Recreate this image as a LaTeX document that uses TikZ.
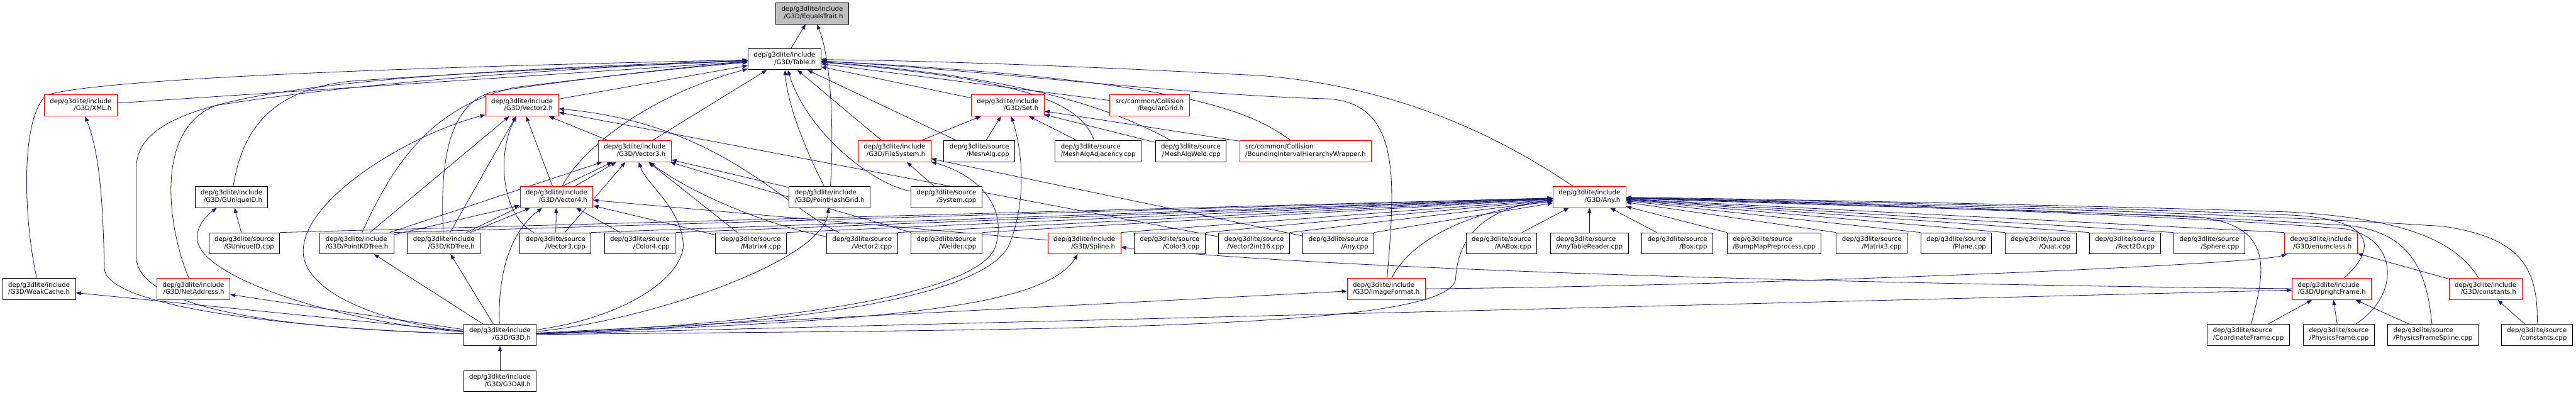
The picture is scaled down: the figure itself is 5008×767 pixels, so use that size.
\documentclass[tikz,border=0pt]{standalone}
\usepackage{fontspec}
\setmainfont{DejaVu Sans}
\usetikzlibrary{arrows.meta,backgrounds}
\definecolor{edgeblue}{RGB}{25,25,112}
\newcommand\flab[2]{\begin{tabular}{@{}l@{}}#1\\\hfill#2\hfill\end{tabular}}
\newcommand\ghdr[1]{\flab{dep/g3dlite/include}{/G3D/#1}}
\newcommand\gsrc[1]{\flab{dep/g3dlite/source}{/#1}}
\newcommand\collh[1]{\flab{src/common/Collision}{/#1}}

\begin{document}
\begin{tikzpicture}[x=1pt, y=-1pt,
    filebox/.style={draw=black, fill=white, line width=1.2pt, inner xsep=11pt,
      inner ysep=0pt, minimum height=41pt, font=\fontsize{12.4}{14.5}\selectfont},
    redbox/.style={filebox, draw=red},
    rootbox/.style={filebox, fill=gray!50},
    includes/.style={draw=edgeblue, line width=1pt, -{Triangle[length=10pt,width=7.5pt]}}
  ]
  \useasboundingbox (0,0) rectangle (5008,767);

  \node[rootbox] (eqtrait) at (1579,26) {\ghdr{EqualsTrait.h}};
  \node[filebox] (tableh) at (1525,115) {\ghdr{Table.h}};

  \node[redbox] (xmlh) at (157,205) {\ghdr{XML.h}};
  \node[redbox] (vec2h) at (1015,205) {\ghdr{Vector2.h}};
  \node[redbox] (seth) at (1959,205) {\ghdr{Set.h}};
  \node[redbox] (reggrid) at (2235,205) {\collh{RegularGrid.h}};

  \node[redbox] (vec3h) at (1234,294) {\ghdr{Vector3.h}};
  \node[redbox] (filesys) at (1739,294) {\ghdr{FileSystem.h}};
  \node[filebox] (meshalg) at (1904,294) {\gsrc{MeshAlg.cpp}};
  \node[filebox] (meshadj) at (2135,294) {\gsrc{MeshAlgAdjacency.cpp}};
  \node[filebox] (meshweld) at (2315,294) {\gsrc{MeshAlgWeld.cpp}};
  \node[redbox] (bihwrap) at (2538,294) {\collh{BoundingIntervalHierarchyWrapper.h}};

  \node[filebox] (guniqueh) at (450,383) {\ghdr{GUniqueID.h}};
  \node[redbox] (vec4h) at (1082,383) {\ghdr{Vector4.h}};
  \node[filebox] (pointhash) at (1613,383) {\ghdr{PointHashGrid.h}};
  \node[filebox] (systemcpp) at (1840,383) {\gsrc{System.cpp}};
  \node[redbox] (anyh) at (3090,383) {\ghdr{Any.h}};

  \node[filebox] (guniquecpp) at (475,473) {\gsrc{GUniqueID.cpp}};
  \node[filebox] (pointkd) at (694,473) {\ghdr{PointKDTree.h}};
  \node[filebox] (kdtree) at (863,473) {\ghdr{KDTree.h}};
  \node[filebox] (vec3cpp) at (1080,473) {\gsrc{Vector3.cpp}};
  \node[filebox] (color4cpp) at (1244,473) {\gsrc{Color4.cpp}};
  \node[filebox] (matrix4cpp) at (1460,473) {\gsrc{Matrix4.cpp}};
  \node[filebox] (vec2cpp) at (1676,473) {\gsrc{Vector2.cpp}};
  \node[filebox] (weldercpp) at (1840,473) {\gsrc{Welder.cpp}};
  \node[redbox] (splineh) at (2108,473) {\ghdr{Spline.h}};
  \node[filebox] (color3cpp) at (2274,473) {\gsrc{Color3.cpp}};
  \node[filebox] (vec2i16cpp) at (2438,473) {\gsrc{Vector2int16.cpp}};
  \node[filebox] (anycpp) at (2602,473) {\gsrc{Any.cpp}};
  \node[filebox] (aaboxcpp) at (2919,473) {\gsrc{AABox.cpp}};
  \node[filebox] (anytabcpp) at (3090,473) {\gsrc{AnyTableReader.cpp}};
  \node[filebox] (boxcpp) at (3261,473) {\gsrc{Box.cpp}};
  \node[filebox] (bumpcpp) at (3449,473) {\gsrc{BumpMapPreprocess.cpp}};
  \node[filebox] (matrix3cpp) at (3639,473) {\gsrc{Matrix3.cpp}};
  \node[filebox] (planecpp) at (3803,473) {\gsrc{Plane.cpp}};
  \node[filebox] (quatcpp) at (3967,473) {\gsrc{Quat.cpp}};
  \node[filebox] (rect2dcpp) at (4131,473) {\gsrc{Rect2D.cpp}};
  \node[filebox] (spherecpp) at (4295,473) {\gsrc{Sphere.cpp}};
  \node[redbox] (enumh) at (4512,473) {\ghdr{enumclass.h}};

  \node[filebox] (weakcache) at (76,562) {\ghdr{WeakCache.h}};
  \node[redbox] (netaddr) at (376,562) {\ghdr{NetAddress.h}};
  \node[redbox] (imagefmt) at (2695,562) {\ghdr{ImageFormat.h}};
  \node[redbox] (uprighth) at (4533,562) {\ghdr{UprightFrame.h}};
  \node[redbox] (consth) at (4832,562) {\ghdr{constants.h}};

  \node[filebox] (g3dh) at (972,651) {\ghdr{G3D.h}};
  \node[filebox] (coordcpp) at (4371,651) {\gsrc{CoordinateFrame.cpp}};
  \node[filebox] (physcpp) at (4547,651) {\gsrc{PhysicsFrame.cpp}};
  \node[filebox] (physsplcpp) at (4730,651) {\gsrc{PhysicsFrameSpline.cpp}};
  \node[filebox] (constcpp) at (4932,651) {\gsrc{constants.cpp}};

  \node[filebox] (g3dall) at (972,741) {\ghdr{G3DAll.h}};

  \begin{scope}[on background layer]
    \draw[includes] (tableh) -- (eqtrait);
    \draw[includes] (pointhash) .. controls (1622,250) and (1615,110) .. (eqtrait);

    \foreach \src in {xmlh, vec2h, vec3h, filesys, meshalg, seth, reggrid}
      \draw[includes] (\src) -- (tableh);
    \draw[includes] (weakcache) .. controls (45,420) and (40,230) .. (90,185)
      .. controls (200,150) and (900,128) .. (tableh);
    \draw[includes] (g3dh) .. controls (600,640) and (268,610) .. (265,500) -- (265,330)
      .. controls (262,200) and (500,150) .. (tableh);
    \draw[includes] (netaddr) .. controls (325,440) and (300,250) .. (420,205)
      .. controls (700,160) and (1100,132) .. (tableh);
    \draw[includes] (guniqueh) .. controls (470,260) and (520,175) .. (680,158)
      .. controls (1000,135) and (1300,125) .. (tableh);
    \draw[includes] (pointkd) .. controls (760,330) and (830,210) .. (1000,170)
      .. controls (1200,145) and (1350,130) .. (tableh);
    \draw[includes] (kdtree) .. controls (855,320) and (870,200) .. (960,178)
      .. controls (1150,150) and (1350,128) .. (tableh);
    \draw[includes] (vec4h) .. controls (1130,290) and (1260,185) .. (tableh);
    \draw[includes] (pointhash) .. controls (1565,290) and (1530,200) .. (tableh);
    \draw[includes] (systemcpp) .. controls (1700,360) and (1570,260) .. (tableh);
    \draw[includes] (meshadj) .. controls (2100,200) and (2000,155) .. (tableh);
    \draw[includes] (meshweld) .. controls (2170,215) and (2000,150) .. (tableh);
    \draw[includes] (bihwrap) .. controls (2430,215) and (2300,155) .. (tableh);
    \draw[includes] (imagefmt) .. controls (2712,350) and (2725,200) .. (2580,192)
      .. controls (2300,185) and (1900,135) .. (tableh);
    \draw[includes] (anyh) .. controls (2950,290) and (2750,170) .. (2450,147)
      .. controls (2100,128) and (1800,118) .. (tableh);

    \foreach \src in {pointkd, kdtree, vec4h, vec3h, vec2i16cpp}
      \draw[includes] (\src) -- (vec2h);
    \draw[includes] (g3dh) .. controls (720,625) and (580,560) .. (590,480)
      .. controls (600,380) and (800,260) .. (vec2h);
    \draw[includes] (vec3cpp) .. controls (975,420) and (965,300) .. (vec2h);
    \draw[includes] (vec2cpp) .. controls (1520,400) and (1400,240) .. (vec2h);

    \foreach \src in {pointkd, kdtree, vec4h, vec3cpp, matrix4cpp, pointhash}
      \draw[includes] (\src) -- (vec3h);
    \draw[includes] (g3dh) .. controls (1230,615) and (1335,530) .. (1328,470)
      .. controls (1320,400) and (1258,360) .. (vec3h);
    \draw[includes] (vec2cpp) .. controls (1500,440) and (1350,380) .. (vec3h);
    \draw[includes] (weldercpp) .. controls (1700,430) and (1450,360) .. (vec3h);

    \foreach \src in {pointkd, kdtree, vec3cpp, color4cpp, matrix4cpp, splineh}
      \draw[includes] (\src) -- (vec4h);
    \draw[includes] (g3dh) .. controls (968,560) and (980,460) .. (vec4h);

    \foreach \src in {filesys, meshalg, meshadj, meshweld, bihwrap}
      \draw[includes] (\src) -- (seth);
    \draw[includes] (g3dh) .. controls (1500,635) and (1900,585) .. (1960,480)
      .. controls (1995,400) and (1990,300) .. (seth);

    \draw[includes] (systemcpp) -- (filesys);
    \draw[includes] (anycpp) -- (filesys);
    \draw[includes] (g3dh) .. controls (1500,630) and (1900,575) .. (1935,480)
      .. controls (1960,400) and (1900,340) .. (filesys);

    \draw[includes] (guniquecpp) -- (guniqueh);
    \draw[includes] (g3dh) .. controls (650,625) and (420,545) .. (388,480)
      .. controls (372,450) and (400,420) .. (guniqueh);
    \draw[includes] (g3dh) .. controls (600,640) and (200,600) .. (203,520)
      .. controls (200,400) and (195,300) .. (xmlh);

    \foreach \dst in {weakcache, netaddr, pointkd, kdtree, imagefmt, uprighth}
      \draw[includes] (g3dh) -- (\dst);
    \draw[includes] (g3dall) -- (g3dh);
    \draw[includes] (g3dh) .. controls (1250,625) and (1600,510) .. (pointhash);
    \draw[includes] (g3dh) .. controls (1700,625) and (2030,600) .. (splineh);
    \draw[includes] (uprighth) .. controls (3600,552) and (2600,525) .. (splineh);

    \foreach \src in {coordcpp, physcpp, physsplcpp}
      \draw[includes] (\src) -- (uprighth);
    \draw[includes] (imagefmt) .. controls (3400,556) and (4380,515) .. (enumh);
    \draw[includes] (consth) -- (enumh);
    \draw[includes] (constcpp) -- (consth);

    \foreach \src in {guniquecpp, pointkd, vec3cpp, color4cpp, matrix4cpp, vec2cpp,
        weldercpp, splineh, color3cpp, vec2i16cpp, anycpp}
      \draw[includes] (\src.north east) -- (anyh);
    \foreach \src in {aaboxcpp, anytabcpp, boxcpp}
      \draw[includes] (\src) -- (anyh);
    \foreach \src in {bumpcpp, matrix3cpp, planecpp, quatcpp, rect2dcpp, spherecpp, enumh}
      \draw[includes] (\src.north west) -- (anyh);
    \draw[includes] (imagefmt) .. controls (2740,470) and (2850,410) .. (anyh);
    \draw[includes] (g3dh) .. controls (2000,640) and (2830,645) .. (2830,540)
      .. controls (2835,450) and (2900,400) .. (anyh);
    \draw[includes] (uprighth) .. controls (4625,480) and (4615,425) .. (4450,418)
      .. controls (4000,400) and (3400,388) .. (anyh);
    \draw[includes] (consth) .. controls (4775,470) and (4680,425) .. (4450,412)
      .. controls (4000,398) and (3400,386) .. (anyh);
    \draw[includes] (coordcpp) .. controls (4405,520) and (4425,430) .. (4250,420)
      .. controls (3900,408) and (3400,394) .. (anyh);
    \draw[includes] (physcpp) .. controls (4665,575) and (4665,465) .. (4560,445)
      .. controls (4200,415) and (3400,392) .. (anyh);
    \draw[includes] (physsplcpp) .. controls (4718,530) and (4690,450) .. (4560,438)
      .. controls (4150,412) and (3400,390) .. (anyh);
    \draw[includes] (constcpp) .. controls (4935,520) and (4900,462) .. (4750,440)
      .. controls (4300,410) and (3400,390) .. (anyh);
  \end{scope}
\end{tikzpicture}
\end{document}
